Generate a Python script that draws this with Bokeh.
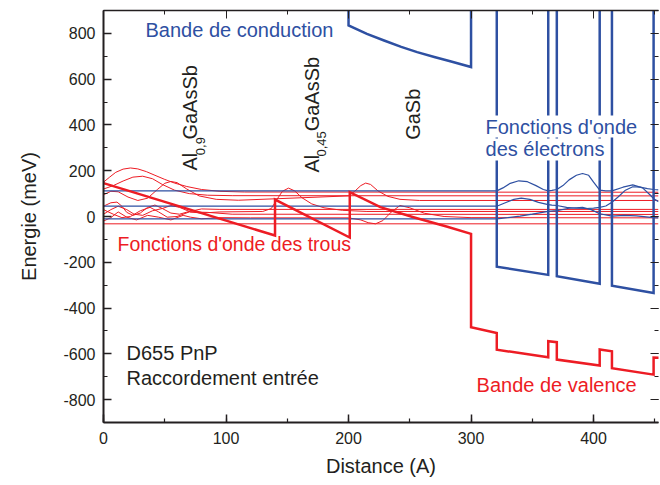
import math
from bokeh.plotting import figure
from bokeh.models import Label, LinearAxis, SingleIntervalTicker, Range1d, PrintfTickFormatter, CustomLabelingPolicy
from bokeh.embed import file_html
from bokeh.resources import INLINE

# ---------------- data ----------------
# Conduction band (meV) vs distance (A); 1800 = off the top of the chart
cb_x = [200, 200, 215, 229, 243, 256, 270, 283, 300, 300, 321, 321, 363, 363, 370, 370, 405, 405, 415, 415, 449, 449]
cb_e = [1800, 835, 798, 769, 741, 718, 697, 678, 653, 1800, 1800, -219, -255, 1800, 1800, -261, -294, 1800, 1800, -302, -334, 1800]

# Valence band
vb_x = [0, 140, 140, 201, 201, 226, 253, 280, 300, 300, 321, 321, 363, 363, 370, 370, 405, 405, 415, 415, 449, 449, 460]
vb_e = [146, -83, 74, -92, 106, 41, -3, -44, -76, -484, -509, -582, -615, -545, -549, -625, -651, -581, -589, -663, -691, -616, -620]

# Electron wave functions (level + envelope)
e1_x = [0, 321, 326, 332, 339, 346, 353, 359, 363, 366, 370, 375, 380, 386, 391, 396, 400, 405, 410, 415, 424, 432, 440, 446, 449, 453]
e1_e = [112, 112, 125, 145, 156, 152, 135, 118, 112, 114, 118, 135, 160, 180, 188, 180, 150, 115, 112, 112, 128, 138, 125, 95, 78, 65]
e2_x = [0, 321, 328, 335, 341, 348, 355, 363, 366, 370, 378, 386, 394, 400, 405, 410, 415, 420, 426, 432, 438, 444, 449, 453]
e2_e = [45, 45, 60, 75, 80, 75, 62, 52, 50, 48, 40, 36, 35, 37, 40, 46, 62, 85, 115, 130, 128, 122, 118, 116]
e3_x = [0, 321, 330, 340, 350, 363, 370, 380, 391, 398, 405, 415, 425, 435, 449, 453]
e3_e = [-10, -10, -5, 2, 10, 22, 26, 36, 40, 30, 12, 2, 5, 3, -5, -6]

# Hole wave functions (level + envelope)
h1_x = [0, 5, 10, 16, 22, 28, 35, 42, 50, 58, 68, 80, 95, 115, 453]
h1_e = [150, 172, 193, 207, 212, 208, 196, 180, 162, 146, 131, 118, 110, 107, 106]
h2_x = [0, 8, 16, 24, 32, 40, 48, 58, 70, 85, 105, 453]
h2_e = [120, 135, 155, 172, 176, 165, 140, 115, 100, 93, 91, 90]
h3_x = [0, 6, 12, 20, 28, 36, 44, 50, 55, 60, 68, 78, 92, 110, 200, 205, 210, 214, 218, 224, 232, 242, 258, 453]
h3_e = [95, 110, 108, 85, 70, 80, 118, 145, 153, 148, 120, 90, 75, 71, 90, 110, 135, 146, 140, 112, 88, 75, 70, 70]
h4_x = [0, 6, 11, 15, 19, 24, 30, 36, 42, 48, 55, 62, 70, 80, 95, 453]
h4_e = [45, 60, 63, 45, 18, 5, 15, 40, 50, 35, 15, 10, 22, 33, 31, 31]
h5_x = [0, 6, 12, 19, 25, 32, 40, 48, 55, 62, 71, 80, 95, 130, 137, 141, 146, 151, 156, 162, 170, 180, 195, 215, 453]
h5_e = [10, 30, 45, 30, 10, 5, 25, 35, 48, 40, 20, 15, 20, 22, 35, 70, 110, 124, 112, 82, 55, 38, 27, 22, 22]
h6_x = [0, 8, 15, 22, 30, 38, 45, 52, 60, 70, 85, 105, 453]
h6_e = [30, 10, -5, 0, 25, 40, 20, -3, 0, 20, 18, 10, 9]
h7_x = [0, 6, 12, 19, 27, 36, 45, 55, 65, 71, 80, 95, 120, 200, 210, 216, 222, 228, 235, 242, 250, 262, 278, 300, 453]
h7_e = [-20, -5, 20, -3, -15, 5, -3, -15, 5, -3, -10, -5, -6, -6, -15, -27, -32, -18, 20, 48, 38, 14, 0, -5, -6]
h8_x = [0, 453]
h8_e = [-32, -32]

x_ticks_interval = 100
y_ticks_interval = 200

BLUE = "#2E50A2"
RED = "#ED1C24"
DARK = "#231F20"
FONT = "Liberation Sans"

# ---------------- figure ----------------
p = figure(width=660, height=485, output_backend="svg", toolbar_location=None,
           x_range=Range1d(0, 453), y_range=Range1d(-900, 900),
           min_border_left=103, min_border_right=2, min_border_top=10, min_border_bottom=63,
           x_axis_label="Distance (A)", y_axis_label="Energie (meV)")
p.grid.visible = False
p.outline_line_color = None
p.background_fill_color = "white"
p.border_fill_color = "white"

p.xaxis.ticker = SingleIntervalTicker(interval=x_ticks_interval, num_minor_ticks=2)
p.yaxis.ticker = SingleIntervalTicker(interval=y_ticks_interval, num_minor_ticks=2)
p.yaxis.formatter = PrintfTickFormatter(format="%d")
p.xaxis.formatter = PrintfTickFormatter(format="%d")
for ax in (p.xaxis[0], p.yaxis[0]):
    ax.axis_line_color = DARK
    ax.axis_line_width = 2
    ax.major_tick_line_color = DARK
    ax.minor_tick_line_color = DARK
    ax.major_tick_line_width = 1.5
    ax.minor_tick_line_width = 1.2
    ax.major_tick_in = 8
    ax.major_tick_out = 0
    ax.minor_tick_in = 4
    ax.minor_tick_out = 0
    ax.major_label_text_font = FONT
    ax.major_label_text_font_size = "16px"
    ax.major_label_text_color = DARK
    ax.axis_label_text_font = FONT
    ax.axis_label_text_font_size = "20px"
    ax.axis_label_text_font_style = "normal"
    ax.axis_label_text_color = DARK
p.yaxis.major_label_standoff = 8
p.yaxis.axis_label_standoff = 20
p.xaxis.major_label_standoff = 9
p.xaxis.axis_label_standoff = 8

no_labels = "return new Set()"
top = LinearAxis(ticker=SingleIntervalTicker(interval=x_ticks_interval, num_minor_ticks=2),
                 major_label_policy=CustomLabelingPolicy(code=no_labels), major_label_standoff=0,
                 major_label_text_font_size="0px",
                 axis_line_color=DARK, axis_line_width=1.5,
                 major_tick_in=8, major_tick_out=0, minor_tick_in=4, minor_tick_out=0,
                 major_tick_line_color=DARK, minor_tick_line_color=DARK)
p.add_layout(top, "above")
right = LinearAxis(ticker=SingleIntervalTicker(interval=y_ticks_interval, num_minor_ticks=2),
                   major_label_policy=CustomLabelingPolicy(code=no_labels), major_label_standoff=0,
                   major_label_text_font_size="0px",
                   axis_line_color=None,
                   major_tick_in=8, major_tick_out=0, minor_tick_in=4, minor_tick_out=0,
                   major_tick_line_color=DARK, minor_tick_line_color=DARK)
p.add_layout(right, "right")

# wave functions
for xs, es in [(h8_x, h8_e), (h7_x, h7_e), (h6_x, h6_e), (h5_x, h5_e), (h4_x, h4_e),
               (h3_x, h3_e), (h2_x, h2_e), (h1_x, h1_e)]:
    p.line(xs, es, line_color=RED, line_width=1)
for xs, es in [(e3_x, e3_e), (e2_x, e2_e), (e1_x, e1_e)]:
    p.line(xs, es, line_color=BLUE, line_width=1.2)

# bands
p.line(cb_x, cb_e, line_color=BLUE, line_width=2.5, line_join="miter")
p.line(vb_x, vb_e, line_color=RED, line_width=2.5, line_join="miter")

# ---------------- annotations ----------------
def lab(x, y, text, color=DARK, size="20px", angle=0.0, align="left", baseline="middle", bg=None):
    l = Label(x=x, y=y, text=text, text_color=color, text_font=FONT, text_font_size=size,
              angle=angle, text_align=align, text_baseline=baseline)
    if bg is not None:
        l.background_fill_color = bg
    p.add_layout(l)

lab(34.3, 813, "Bande de conduction", BLUE)
lab(11.4, -122, "Fonctions d'onde des trous", RED, size="19.5px")
lab(304.5, -735, "Bande de valence", RED)
lab(18.8, -595, "D655 PnP")
lab(18.8, -704, "Raccordement entrée")
lab(311.8, 393, "Fonctions d'onde", BLUE, bg="white")
lab(311.8, 293, "des électrons", BLUE, bg="white")

A = math.pi / 2
lab(71, 201, "Al", angle=A)
lab(79.5, 268, "0,9", size="13px", angle=A)
lab(71, 336, "GaAsSb", angle=A)
lab(169.8, 192, "Al", angle=A)
lab(178.3, 262, "0,45", size="13px", angle=A)
lab(169.8, 372, "GaAsSb", angle=A)
lab(253, 335, "GaSb", angle=A)

open("out.html", "w").write(file_html(p, INLINE))
